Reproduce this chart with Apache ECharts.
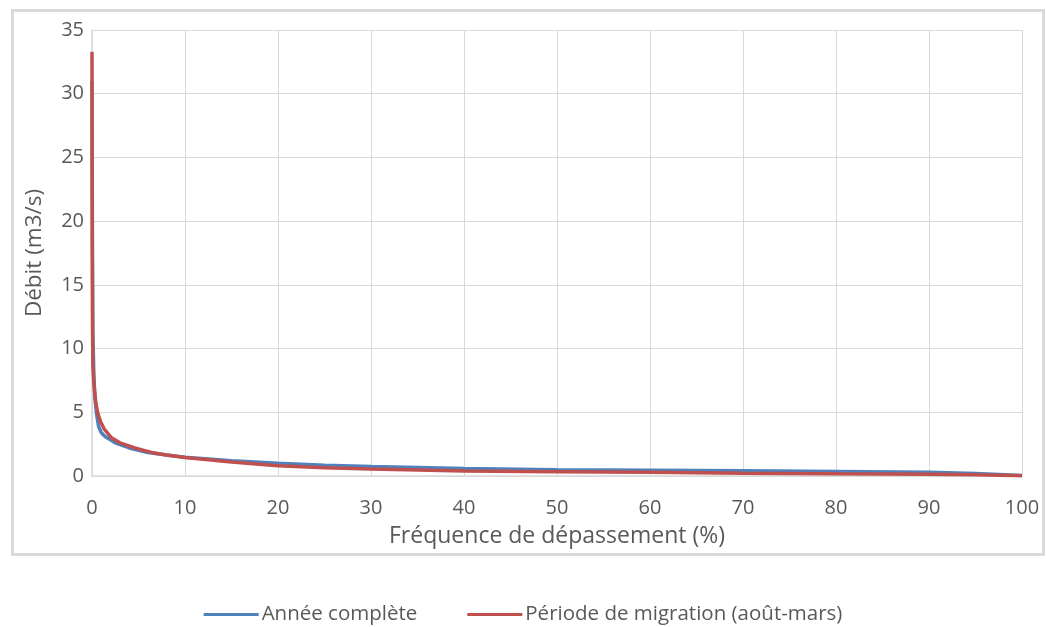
<!DOCTYPE html>
<html>
<head>
<meta charset="utf-8">
<script src="https://cdn.jsdelivr.net/npm/echarts@6/dist/echarts.min.js"></script>
<style>
html,body{margin:0;padding:0;background:#fff;}
#chart{width:1046px;height:627px;}
</style>
</head>
<body>
<div id="chart"></div>
<script>
// Data
const seriesNames = ['Année complète', 'Période de migration (août-mars)'];
const xTicks = [0, 10, 20, 30, 40, 50, 60, 70, 80, 90, 100];
const yTicks = [0, 5, 10, 15, 20, 25, 30, 35];

const anneeFreq = [0, 0.05, 0.1, 0.2, 0.3, 0.5, 0.7, 1.0, 1.4, 2.5, 4, 6, 8, 10, 15, 20, 25, 30, 40, 50, 60, 70, 80, 90, 95, 100];
const anneeDebit = [31, 18, 11, 8, 6.2, 4.8, 3.9, 3.4, 3.1, 2.6, 2.2, 1.85, 1.65, 1.48, 1.2, 1.0, 0.85, 0.75, 0.58, 0.5, 0.46, 0.41, 0.36, 0.29, 0.2, 0.03];

const migrFreq = [0, 0.02, 0.05, 0.1, 0.2, 0.4, 0.6, 0.9, 1.3, 2.1, 3, 4.6, 6.4, 8, 10, 15, 20, 25, 30, 40, 50, 60, 70, 80, 90, 95, 100];
const migrDebit = [33.3, 20, 12, 8.5, 7.3, 5.8, 5.0, 4.3, 3.7, 3.0, 2.6, 2.2, 1.85, 1.65, 1.45, 1.1, 0.8, 0.65, 0.55, 0.4, 0.34, 0.29, 0.22, 0.17, 0.14, 0.1, 0.02];

const pair = (xs, ys) => xs.map((x, i) => [x, ys[i]]);

const FONT = "'Open Sans', 'Noto Sans', sans-serif";
const chart = echarts.init(document.getElementById('chart'));
chart.setOption({
  animation: false,
  backgroundColor: '#fff',
  graphic: [{
    type: 'rect',
    left: 10, top: 8,
    shape: { x: 0, y: 0, width: 1031, height: 544 },
    style: { fill: 'none', stroke: '#d9d9d9', lineWidth: 3 },
    silent: true, z: -10
  }],
  grid: { left: 92, right: 24, top: 30, bottom: 151 },
  legend: {
    top: 599,
    left: 'center',
    itemWidth: 55,
    itemHeight: 3,
    itemGap: 50,
    icon: 'rect',
    textStyle: { fontFamily: FONT, fontSize: 20.5, color: '#595959', padding: [0, 0, 0, -2] },
    data: seriesNames
  },
  xAxis: {
    type: 'value', min: xTicks[0], max: xTicks[xTicks.length - 1], interval: 10,
    name: 'Fréquence de dépassement (%)',
    nameLocation: 'middle', nameGap: 49,
    nameTextStyle: { fontFamily: FONT, fontSize: 23, color: '#595959' },
    axisLine: { show: true, lineStyle: { color: '#d9d9d9', width: 1.5 } },
    axisTick: { show: false },
    axisLabel: { fontFamily: FONT, fontSize: 20, color: '#595959', margin: 22 },
    splitLine: { show: true, lineStyle: { color: '#d9d9d9', width: 1 } }
  },
  yAxis: {
    type: 'value', min: yTicks[0], max: yTicks[yTicks.length - 1], interval: 5,
    name: 'Débit (m3/s)',
    nameLocation: 'middle', nameGap: 46,
    nameTextStyle: { fontFamily: FONT, fontSize: 22.5, color: '#595959' },
    axisLine: { show: true, lineStyle: { color: '#d9d9d9', width: 1.5 } },
    axisTick: { show: false },
    axisLabel: { fontFamily: FONT, fontSize: 20, color: '#595959', margin: 8 },
    splitLine: { show: true, lineStyle: { color: '#d9d9d9', width: 1 } }
  },
  series: [
    {
      name: seriesNames[0], type: 'line', showSymbol: false, symbol: 'none',
      data: pair(anneeFreq, anneeDebit),
      lineStyle: { color: '#4f81bd', width: 3.5 }, itemStyle: { color: '#4f81bd' }, z: 2
    },
    {
      name: seriesNames[1], type: 'line', showSymbol: false, symbol: 'none',
      data: pair(migrFreq, migrDebit),
      lineStyle: { color: '#c0504d', width: 3.5 }, itemStyle: { color: '#c0504d' }, z: 3
    }
  ]
});
</script>
</body>
</html>
